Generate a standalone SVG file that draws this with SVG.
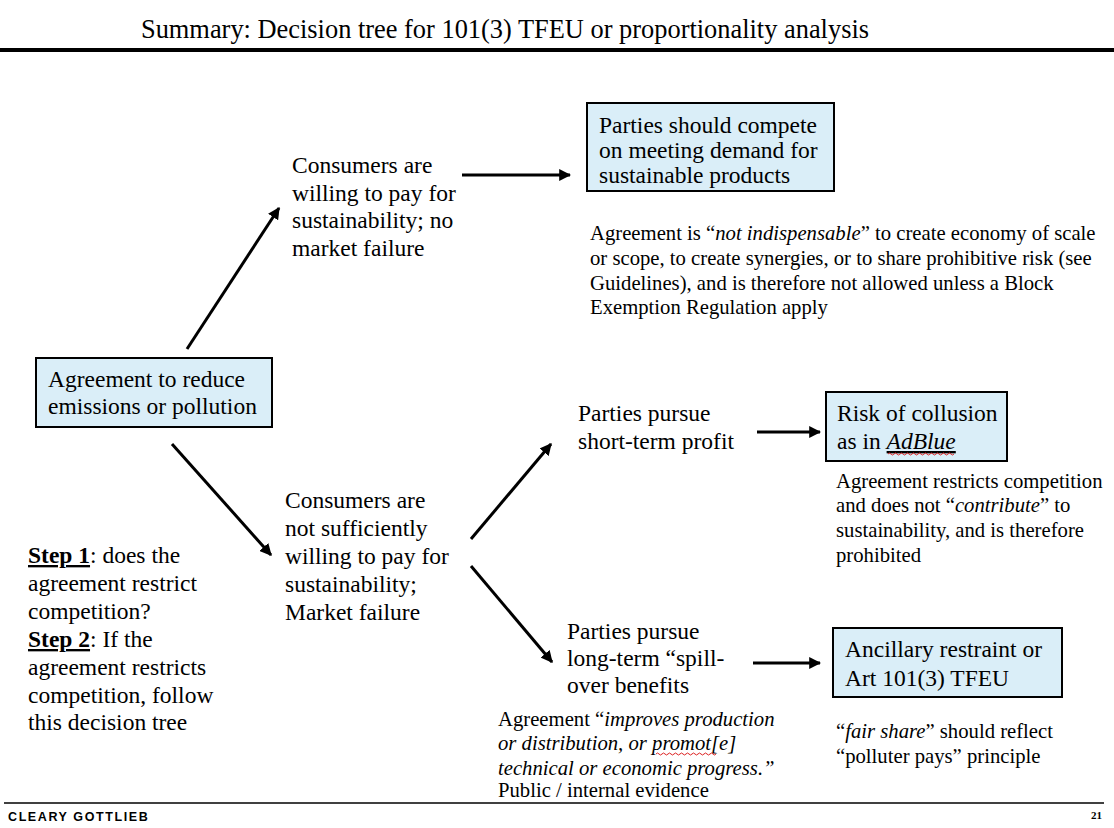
<svg xmlns="http://www.w3.org/2000/svg" width="1114" height="828" viewBox="0 0 1114 828">
<style>
  text { font-family: "Liberation Serif", "Times New Roman", serif; fill: #000; }
  .title { font-size: 26.4px; }
  .box { fill: #DAEEF8; stroke: #000; stroke-width: 2; }
  .bt { font-size: 23.5px; }
  .lbl { font-size: 23.5px; }
  .note { font-size: 20.7px; }
  .conn { stroke: #000; stroke-width: 3; fill: none; marker-end: url(#ah); }
  .it { font-style: italic; }
  .squig { stroke: #d22; stroke-width: 1; fill: none; }
</style>
<defs>
  <marker id="ah" viewBox="0 0 10 10" refX="9" refY="5" markerWidth="4" markerHeight="4" orient="auto" markerUnits="strokeWidth">
    <path d="M0,0 L10,5 L0,10 z" fill="#000"/>
  </marker>
</defs>
<rect width="1114" height="828" fill="#fff"/>

<g id="header">
  <text class="title" x="505" y="38" text-anchor="middle">Summary: Decision tree for 101(3) TFEU or proportionality analysis</text>
  <rect x="0" y="48" width="1114" height="4" fill="#000"/>
</g>

<g id="connectors">
  <line class="conn" x1="187" y1="349" x2="279" y2="208"/>
  <line class="conn" x1="172" y1="444" x2="271" y2="555"/>
  <line class="conn" x1="462" y1="175" x2="570" y2="175"/>
  <line class="conn" x1="471" y1="539" x2="551" y2="444"/>
  <line class="conn" x1="471" y1="566" x2="552" y2="662"/>
  <line class="conn" x1="757" y1="432" x2="820" y2="432"/>
  <line class="conn" x1="753" y1="663" x2="820" y2="663"/>
</g>

<g id="agreement">
  <rect class="box" x="36" y="358" width="236" height="69"/>
  <text class="bt" x="48" y="387">Agreement to reduce</text>
  <text class="bt" x="48" y="414">emissions or pollution</text>
</g>

<g id="willing">
  <text class="lbl" x="292" y="173">Consumers are</text>
  <text class="lbl" x="292" y="201">willing to pay for</text>
  <text class="lbl" x="292" y="228">sustainability; no</text>
  <text class="lbl" x="292" y="256">market failure</text>
</g>

<g id="compete">
  <rect class="box" x="587" y="103" width="247" height="88"/>
  <text class="bt" x="599" y="133">Parties should compete</text>
  <text class="bt" x="599" y="158">on meeting demand for</text>
  <text class="bt" x="599" y="183">sustainable products</text>
</g>

<g id="note-indispensable">
  <text class="note" x="590" y="240">Agreement is “<tspan class="it">not indispensable</tspan>” to create economy of scale</text>
  <text class="note" x="590" y="265">or scope, to create synergies, or to share prohibitive risk (see</text>
  <text class="note" x="590" y="290">Guidelines), and is therefore not allowed unless a Block</text>
  <text class="note" x="590" y="314">Exemption Regulation apply</text>
</g>

<g id="not-willing">
  <text class="lbl" x="285" y="508">Consumers are</text>
  <text class="lbl" x="285" y="536">not sufficiently</text>
  <text class="lbl" x="285" y="564">willing to pay for</text>
  <text class="lbl" x="285" y="592">sustainability;</text>
  <text class="lbl" x="285" y="620">Market failure</text>
</g>

<g id="short-term">
  <text class="lbl" x="578" y="421">Parties pursue</text>
  <text class="lbl" x="578" y="449">short-term profit</text>
</g>

<g id="collusion">
  <rect class="box" x="826" y="392" width="181" height="69"/>
  <text class="bt" x="837" y="421">Risk of collusion</text>
  <text class="bt" x="837" y="449">as in <tspan class="it" text-decoration="underline">AdBlue</tspan></text>
  <path class="squig" d="M888,454 q1.5,-2 3,0 t3,0 t3,0 t3,0 t3,0 t3,0 t3,0 t3,0 t3,0 t3,0 t3,0 t3,0 t3,0 t3,0 t3,0 t3,0 t3,0 t3,0 t3,0 t3,0 t3,0 t3,0"/>
</g>

<g id="note-restricts">
  <text class="note" x="836" y="488">Agreement restricts competition</text>
  <text class="note" x="836" y="512">and does not “<tspan class="it">contribute</tspan>” to</text>
  <text class="note" x="836" y="537">sustainability, and is therefore</text>
  <text class="note" x="836" y="562">prohibited</text>
</g>

<g id="steps">
  <text class="lbl" x="28" y="563"><tspan font-weight="bold" text-decoration="underline">Step 1</tspan>: does the</text>
  <text class="lbl" x="28" y="591">agreement restrict</text>
  <text class="lbl" x="28" y="619">competition?</text>
  <text class="lbl" x="28" y="647"><tspan font-weight="bold" text-decoration="underline">Step 2</tspan>: If the</text>
  <text class="lbl" x="28" y="675">agreement restricts</text>
  <text class="lbl" x="28" y="703">competition, follow</text>
  <text class="lbl" x="28" y="730">this decision tree</text>
</g>

<g id="long-term">
  <text class="lbl" x="567" y="639">Parties pursue</text>
  <text class="lbl" x="567" y="666">long-term “spill-</text>
  <text class="lbl" x="567" y="693">over benefits</text>
</g>

<g id="ancillary">
  <rect class="box" x="833" y="628" width="229" height="69"/>
  <text class="bt" x="845" y="657">Ancillary restraint or</text>
  <text class="bt" x="845" y="686">Art 101(3) TFEU</text>
</g>

<g id="note-improves">
  <text class="note" x="498" y="726">Agreement “<tspan class="it">improves production</tspan></text>
  <text class="note it" x="498" y="750">or distribution, or promot[e]</text>
  <path class="squig" d="M656,754 q1.5,-2 3,0 t3,0 t3,0 t3,0 t3,0 t3,0 t3,0 t3,0 t3,0 t3,0 t3,0 t3,0 t3,0 t3,0 t3,0 t3,0 t3,0 t3,0 t3,0 t3,0"/>
  <text class="note it" x="498" y="775">technical or economic progress.”</text>
  <text class="note" x="498" y="797">Public / internal evidence</text>
</g>

<g id="note-fair">
  <text class="note" x="836" y="738">“<tspan class="it">fair share</tspan>” should reflect</text>
  <text class="note" x="836" y="763">“polluter pays” principle</text>
</g>

<g id="footer">
  <line x1="4" y1="803" x2="1104" y2="803" stroke="#000" stroke-width="1.5"/>
  <text x="8" y="821" font-size="12.5" letter-spacing="1.6" font-weight="bold" style="font-family:'Liberation Sans',Arial,sans-serif">CLEARY GOTTLIEB</text>
  <text x="1102" y="819" text-anchor="end" font-size="11" font-weight="bold">21</text>
</g>
</svg>
